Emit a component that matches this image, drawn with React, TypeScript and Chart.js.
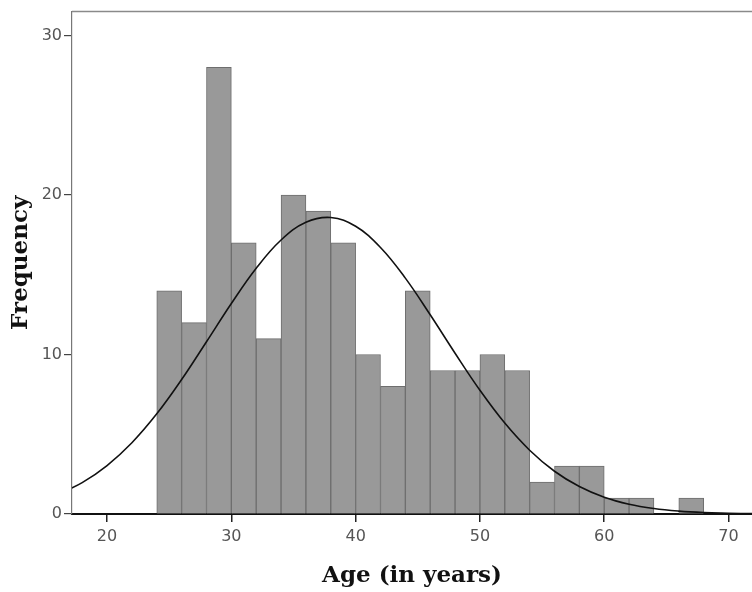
import React, { useEffect, useRef } from "react";
import { Chart, registerables } from "chart.js";

Chart.register(...registerables);

// Histogram bins (2-year wide), centers and counts
const BIN_CENTERS = [25, 27, 29, 31, 33, 35, 37, 39, 41, 43, 45, 47, 49, 51, 53, 55, 57, 59, 61, 63, 65, 67];
const BIN_COUNTS = [14, 12, 28, 17, 11, 20, 19, 17, 10, 8, 14, 9, 9, 10, 9, 2, 3, 3, 1, 1, 0, 1];

// Fitted normal curve
const CURVE_AGES = [16, 18, 20, 22, 24, 26, 28, 30, 32, 34, 36, 38, 40, 42, 44, 46, 48, 50, 52, 54, 56, 58, 60, 62, 64, 66, 68, 70, 72];
const CURVE_VALUES = [1.22, 1.97, 3.04, 4.47, 6.28, 8.43, 10.8, 13.2, 15.41, 17.18, 18.29, 18.59, 18.04, 16.71, 14.79, 12.49, 10.08, 7.76, 5.7, 4.0, 2.68, 1.72, 1.05, 0.61, 0.34, 0.18, 0.09, 0.05, 0.02];

const X_TICKS = [20, 30, 40, 50, 60, 70];
const Y_TICKS = [0, 10, 20, 30];
const X_TITLE = "Age (in years)";
const Y_TITLE = "Frequency";

const topBorder = {
  id: "topBorder",
  afterDatasetsDraw(chart: any) {
    const { ctx, chartArea } = chart;
    ctx.save();
    ctx.strokeStyle = "#8a8a8a";
    ctx.lineWidth = 1.5;
    ctx.beginPath();
    ctx.moveTo(chartArea.left, chartArea.top);
    ctx.lineTo(chartArea.right, chartArea.top);
    ctx.stroke();
    ctx.restore();
  },
};

export default function App() {
  const ref = useRef<HTMLCanvasElement | null>(null);

  useEffect(() => {
    document.body.style.margin = "0";
    const canvas = ref.current;
    if (!canvas) return;
    const chart = new Chart(canvas, {
      type: "bar",
      data: {
        datasets: [
          {
            type: "line",
            data: CURVE_AGES.map((x, i) => ({ x, y: CURVE_VALUES[i] })),
            borderColor: "#111111",
            borderWidth: 1.6,
            pointRadius: 0,
            tension: 0.4,
            fill: false,
            order: 0,
          } as any,
          {
            type: "bar",
            data: BIN_CENTERS.map((x, i) => ({ x, y: BIN_COUNTS[i] })),
            backgroundColor: "#999999",
            borderColor: "#6e6e6e",
            borderWidth: 1,
            barPercentage: 1,
            categoryPercentage: 1,
            order: 1,
          } as any,
        ],
      },
      options: {
        responsive: false,
        animation: false,
        layout: { padding: { left: 0, right: 0, top: 8, bottom: 0 } },
        plugins: { legend: { display: false }, tooltip: { enabled: false } },
        scales: {
          x: {
            type: "linear",
            min: 17.18,
            max: 71.89,
            offset: false,
            grid: { display: true, drawOnChartArea: false, drawTicks: true, tickLength: 8, color: "#222222", lineWidth: 1.5, offset: false },
            border: { display: true, color: "#111111", width: 2 },
            afterBuildTicks: (scale: any) => {
              scale.ticks = X_TICKS.map((v) => ({ value: v }));
            },
            afterFit: (scale: any) => {
              scale.height = 78;
            },
            ticks: {
              color: "#555555",
              font: { family: "DejaVu Sans", size: 16 },
              padding: 5,
              maxRotation: 0,
              autoSkip: false,
            },
            title: {
              display: true,
              text: X_TITLE,
              color: "#111111",
              font: { family: "DejaVu Serif", size: 23, weight: "bold" },
              padding: { top: 0, bottom: 2 },
            },
          },
          y: {
            type: "linear",
            min: 0,
            max: 31.5,
            grid: { display: true, drawOnChartArea: false, drawTicks: true, tickLength: 8, color: "#444444", lineWidth: 1.2 },
            border: { display: true, color: "#777777", width: 1.2 },
            afterBuildTicks: (scale: any) => {
              scale.ticks = Y_TICKS.map((v) => ({ value: v }));
            },
            afterFit: (scale: any) => {
              scale.width = 72;
            },
            ticks: {
              color: "#555555",
              font: { family: "DejaVu Sans", size: 16 },
              padding: 2,
            },
            title: {
              display: true,
              text: Y_TITLE,
              color: "#111111",
              font: { family: "DejaVu Serif", size: 23, weight: "bold" },
              padding: { top: 7, bottom: 0 },
            },
          },
        },
      },
      plugins: [topBorder],
    });
    return () => chart.destroy();
  }, []);

  return (
    <div style={{ width: 752, height: 592 }}>
      <canvas ref={ref} width={752} height={592} style={{ display: "block" }} />
    </div>
  );
}
